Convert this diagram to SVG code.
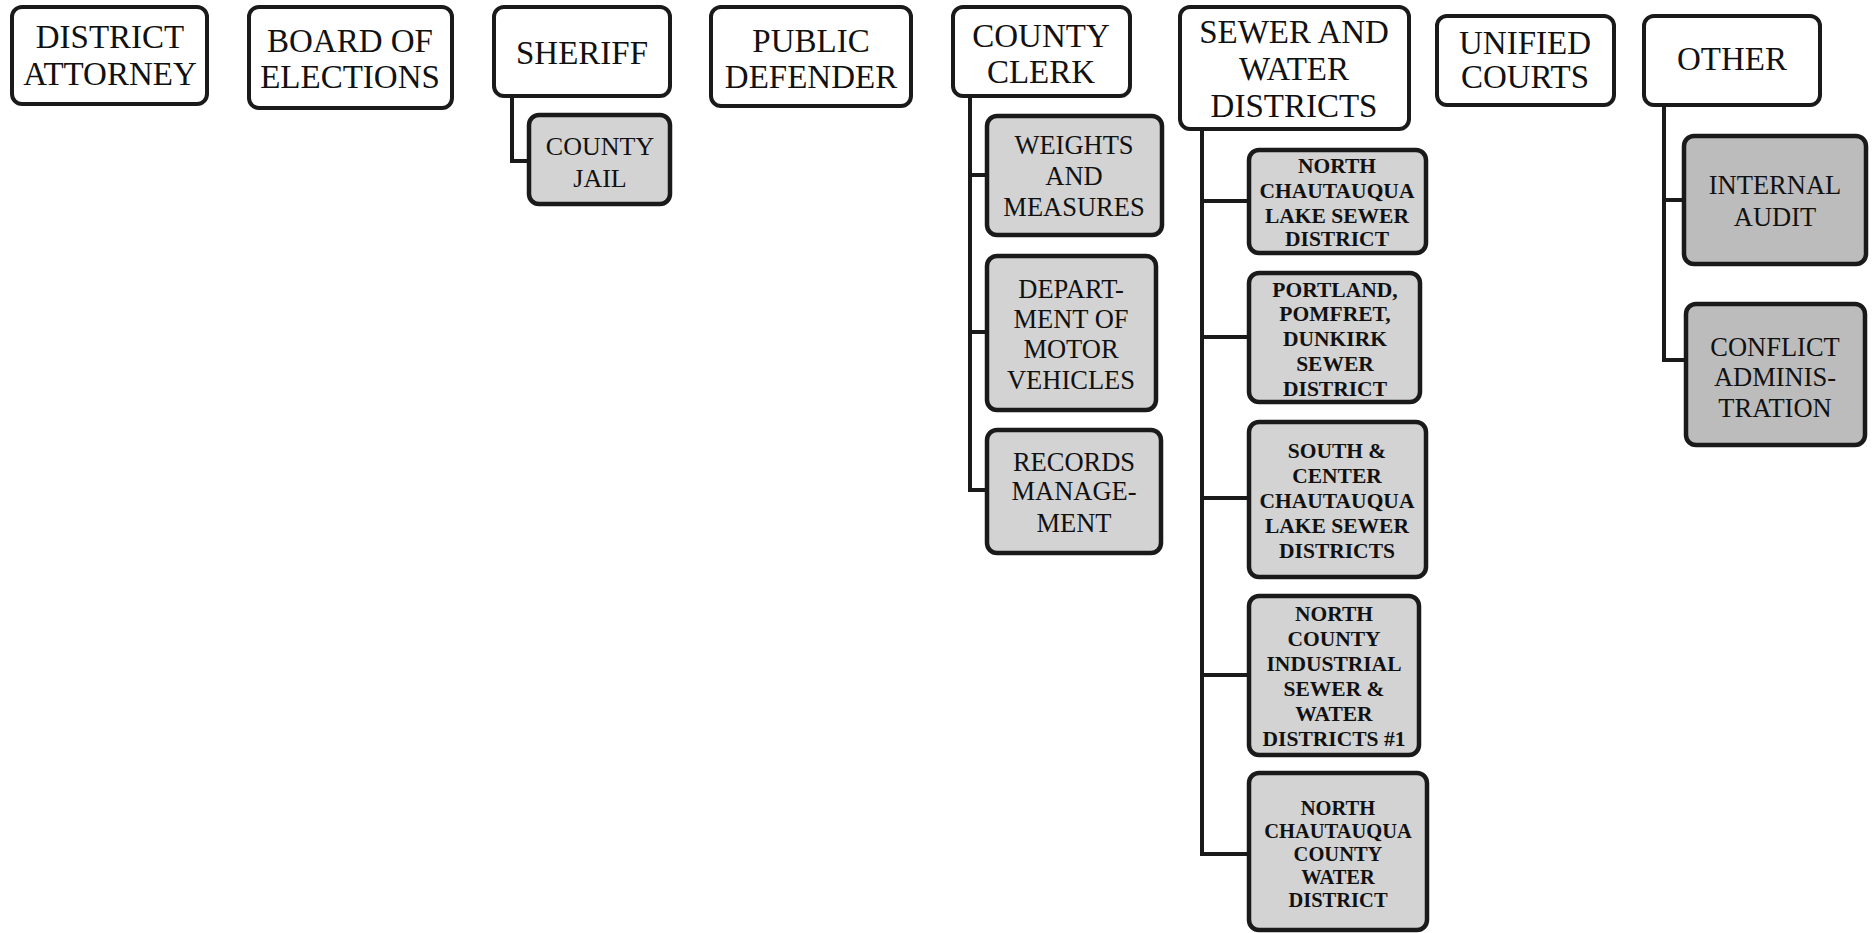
<svg xmlns="http://www.w3.org/2000/svg" width="1875" height="933" viewBox="0 0 1875 933">
<style>
.top{fill:#fff;stroke:#1a1a1a;stroke-width:4}
.sub{fill:#d3d3d3;stroke:#1a1a1a;stroke-width:4.5}
.dk{fill:#bcbcbc;stroke:#1a1a1a;stroke-width:4.5}
text{font-family:"Liberation Serif","Times New Roman",serif;text-anchor:middle;fill:#111}
.t{font-size:33px}
.s{font-size:26.5px}
.x{font-size:21.5px;font-weight:bold}
.y{font-size:20.5px;font-weight:bold}
.c{fill:none;stroke:#1a1a1a;stroke-width:4}
</style>
<rect width="1875" height="933" fill="#fff"/>
<g id="connectors">
<path class="c" d="M512 96V161H529"/>
<path class="c" d="M970 96V490H987M970 175H987M970 332H987"/>
<path class="c" d="M1202 129V854H1249M1202 201H1249M1202 337H1249M1202 498H1249M1202 675H1249"/>
<path class="c" d="M1664 105V360H1686M1664 200H1684"/>
</g>
<g id="district-attorney"><rect class="top" x="12" y="7" width="195" height="97" rx="10"/><text class="t" x="110" y="48">DISTRICT</text><text class="t" x="110" y="85">ATTORNEY</text></g>
<g id="board-of-elections"><rect class="top" x="249" y="7" width="203" height="101" rx="10"/><text class="t" x="350" y="52">BOARD OF</text><text class="t" x="350" y="88">ELECTIONS</text></g>
<g id="sheriff"><rect class="top" x="494" y="7" width="176" height="89" rx="10"/><text class="t" x="582" y="64">SHERIFF</text></g>
<g id="county-jail"><rect class="sub" x="529" y="115" width="141" height="89" rx="10"/><text class="s" x="600" y="155" style="font-size:26px">COUNTY</text><text class="s" x="600" y="187" style="font-size:26px">JAIL</text></g>
<g id="public-defender"><rect class="top" x="711" y="7" width="200" height="99" rx="10"/><text class="t" x="811" y="52">PUBLIC</text><text class="t" x="811" y="88">DEFENDER</text></g>
<g id="county-clerk"><rect class="top" x="953" y="7" width="177" height="89" rx="10"/><text class="t" x="1041" y="47">COUNTY</text><text class="t" x="1041" y="83">CLERK</text></g>
<g id="weights-and-measures"><rect class="sub" x="987" y="116" width="175" height="119" rx="10"/><text class="s" x="1074" y="154">WEIGHTS</text><text class="s" x="1074" y="185">AND</text><text class="s" x="1074" y="216">MEASURES</text></g>
<g id="dmv"><rect class="sub" x="987" y="256" width="169" height="154" rx="10"/><text class="s" x="1071" y="298">DEPART-</text><text class="s" x="1071" y="328">MENT OF</text><text class="s" x="1071" y="358">MOTOR</text><text class="s" x="1071" y="389">VEHICLES</text></g>
<g id="records-management"><rect class="sub" x="987" y="430" width="174" height="123" rx="10"/><text class="s" x="1074" y="471">RECORDS</text><text class="s" x="1074" y="500">MANAGE-</text><text class="s" x="1074" y="532">MENT</text></g>
<g id="sewer-and-water"><rect class="top" x="1180" y="7" width="229" height="122" rx="10"/><text class="t" x="1294" y="43">SEWER AND</text><text class="t" x="1294" y="80">WATER</text><text class="t" x="1294" y="117">DISTRICTS</text></g>
<g id="north-chautauqua-lake-sewer"><rect class="sub" x="1249" y="150" width="177" height="103" rx="10"/><text class="x" x="1337" y="173">NORTH</text><text class="x" x="1337" y="198">CHAUTAUQUA</text><text class="x" x="1337" y="223">LAKE SEWER</text><text class="x" x="1337" y="246">DISTRICT</text></g>
<g id="portland-pomfret-dunkirk"><rect class="sub" x="1249" y="273" width="171" height="129" rx="10"/><text class="x" x="1335" y="297">PORTLAND,</text><text class="x" x="1335" y="321">POMFRET,</text><text class="x" x="1335" y="346">DUNKIRK</text><text class="x" x="1335" y="371">SEWER</text><text class="x" x="1335" y="396">DISTRICT</text></g>
<g id="south-center-chautauqua"><rect class="sub" x="1249" y="422" width="177" height="155" rx="10"/><text class="x" x="1337" y="458">SOUTH &amp;</text><text class="x" x="1337" y="483">CENTER</text><text class="x" x="1337" y="508">CHAUTAUQUA</text><text class="x" x="1337" y="533">LAKE SEWER</text><text class="x" x="1337" y="558">DISTRICTS</text></g>
<g id="north-county-industrial"><rect class="sub" x="1249" y="596" width="170" height="159" rx="10"/><text class="x" x="1334" y="621">NORTH</text><text class="x" x="1334" y="646">COUNTY</text><text class="x" x="1334" y="671">INDUSTRIAL</text><text class="x" x="1334" y="696">SEWER &amp;</text><text class="x" x="1334" y="721">WATER</text><text class="x" x="1334" y="746">DISTRICTS #1</text></g>
<g id="north-chautauqua-county-water"><rect class="sub" x="1249" y="773" width="178" height="157" rx="10"/><text class="y" x="1338" y="815">NORTH</text><text class="y" x="1338" y="838">CHAUTAUQUA</text><text class="y" x="1338" y="861">COUNTY</text><text class="y" x="1338" y="884">WATER</text><text class="y" x="1338" y="907">DISTRICT</text></g>
<g id="unified-courts"><rect class="top" x="1437" y="16" width="177" height="89" rx="10"/><text class="t" x="1525" y="54">UNIFIED</text><text class="t" x="1525" y="88">COURTS</text></g>
<g id="other"><rect class="top" x="1644" y="16" width="176" height="89" rx="10"/><text class="t" x="1732" y="70">OTHER</text></g>
<g id="internal-audit"><rect class="dk" x="1684" y="136" width="182" height="128" rx="10"/><text class="s" x="1775" y="194">INTERNAL</text><text class="s" x="1775" y="226">AUDIT</text></g>
<g id="conflict-administration"><rect class="dk" x="1686" y="304" width="179" height="141" rx="10"/><text class="s" x="1775" y="356">CONFLICT</text><text class="s" x="1775" y="386">ADMINIS-</text><text class="s" x="1775" y="417">TRATION</text></g>
</svg>
